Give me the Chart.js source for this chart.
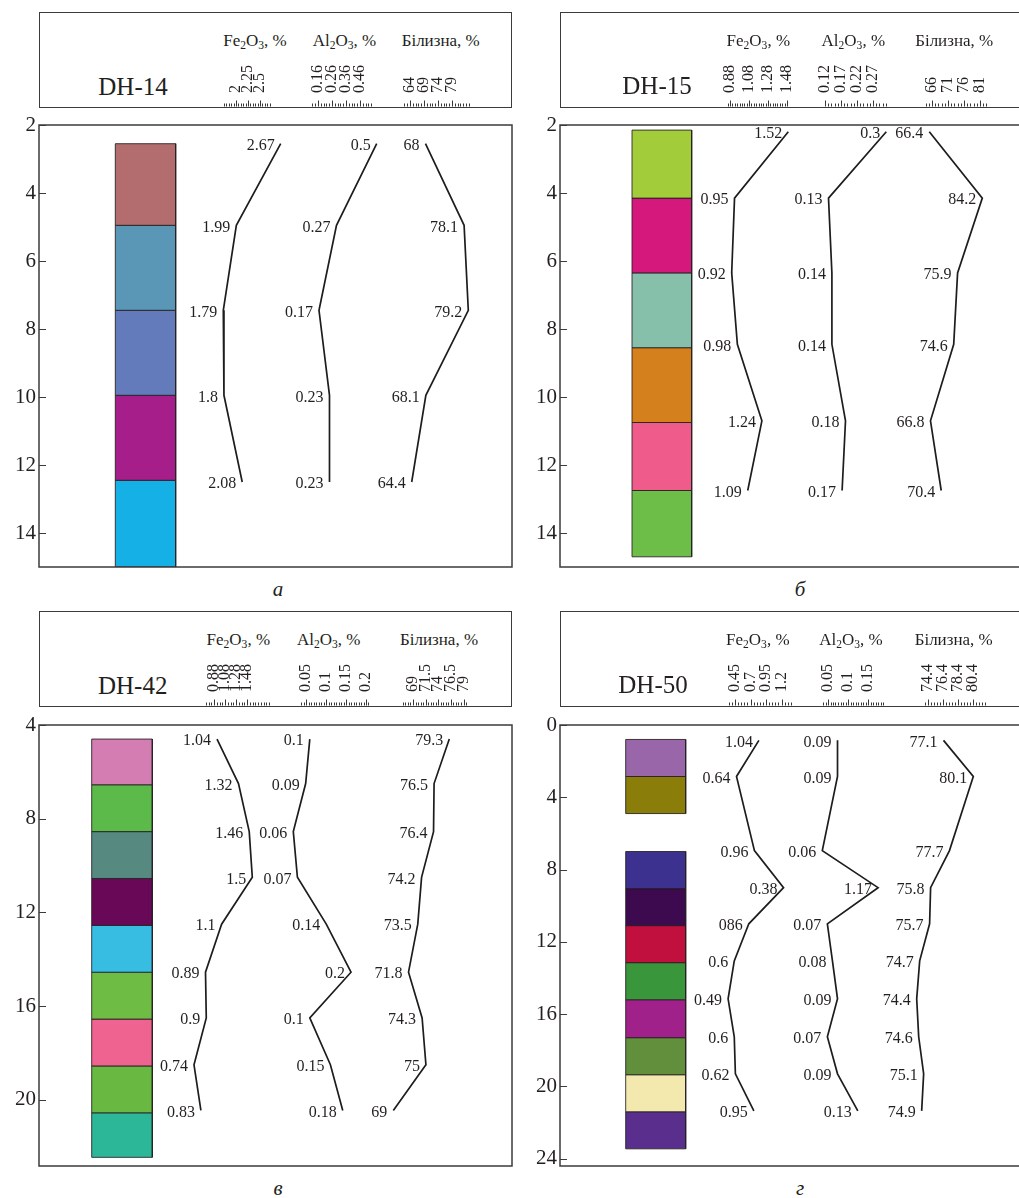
<!DOCTYPE html>
<html>
<head>
<meta charset="utf-8">
<script src="https://cdn.jsdelivr.net/npm/chart.js@4.4.1/dist/chart.umd.min.js"></script>
<style>
  html, body { margin: 0; padding: 0; }
  body { width: 1019px; height: 1198px; overflow: hidden; background: #fff; position: relative;
         font-family: 'Liberation Serif', 'DejaVu Serif', serif; color: #231f20; }
  canvas { position: absolute; }
  .box { position: absolute; border: 1.5px solid #3b3b3b; box-sizing: border-box; }
  .txt { position: absolute; white-space: nowrap; line-height: 1; transform: translateX(-50%); }
  .txt sub { font-size: 68%; vertical-align: -0.25em; line-height: 0; }
</style>
</head>
<body>
<script>
// ---- DH-14 ----
var dh14Depth = [2.55, 4.95, 7.45, 9.95, 12.5];
var dh14Fe = [2.67, 1.99, 1.79, 1.8, 2.08];
var dh14Al = [0.5, 0.27, 0.17, 0.23, 0.23];
var dh14Wh = [68, 78.1, 79.2, 68.1, 64.4];
var dh14Layers = [[2.55, 4.95], [4.95, 7.45], [7.45, 9.95], [9.95, 12.45], [12.45, 15]];
var dh14Colors = ['#b36d6e', '#5a96b5', '#637bba', '#a61e89', '#14b0e6'];
var dh14DepthTicks = [2, 4, 6, 8, 10, 12, 14];
var dh14FeTicks = [2, 2.25, 2.5];
var dh14AlTicks = [0.16, 0.26, 0.36, 0.46];
var dh14WhTicks = [64, 69, 74, 79];

// ---- DH-15 ----
var dh15Depth = [2.2, 4.15, 6.35, 8.45, 10.7, 12.75];
var dh15Fe = [1.52, 0.95, 0.92, 0.98, 1.24, 1.09];
var dh15Al = [0.3, 0.13, 0.14, 0.14, 0.18, 0.17];
var dh15Wh = [66.4, 84.2, 75.9, 74.6, 66.8, 70.4];
var dh15Layers = [[2.15, 4.15], [4.15, 6.35], [6.35, 8.55], [8.55, 10.75], [10.75, 12.75], [12.75, 14.7]];
var dh15Colors = ['#a3cc3a', '#d5187c', '#86bfaa', '#d4801c', '#ef5c8c', '#6dbe48'];
var dh15DepthTicks = [2, 4, 6, 8, 10, 12, 14];
var dh15FeTicks = [0.88, 1.08, 1.28, 1.48];
var dh15AlTicks = [0.12, 0.17, 0.22, 0.27];
var dh15WhTicks = [66, 71, 76, 81];

// ---- DH-42 ----
var dh42Depth = [4.6, 6.5, 8.55, 10.5, 12.5, 14.55, 16.5, 18.5, 20.45];
var dh42Fe = [1.04, 1.32, 1.46, 1.5, 1.1, 0.89, 0.9, 0.74, 0.83];
var dh42Al = [0.1, 0.09, 0.06, 0.07, 0.14, 0.2, 0.1, 0.15, 0.18];
var dh42Wh = [79.3, 76.5, 76.4, 74.2, 73.5, 71.8, 74.3, 75, 69];
var dh42Layers = [[4.6, 6.55], [6.55, 8.55], [8.55, 10.55], [10.55, 12.55], [12.55, 14.55],
                  [14.55, 16.55], [16.55, 18.55], [18.55, 20.55], [20.55, 22.45]];
var dh42Colors = ['#d47db3', '#5cba4a', '#568a80', '#6a0858', '#38bde2', '#6fbc45', '#ef6391', '#68b842', '#2cb799'];
var dh42DepthTicks = [4, 8, 12, 16, 20];
var dh42FeTicks = [0.88, 1.08, 1.28, 1.48];
var dh42AlTicks = [0.05, 0.1, 0.15, 0.2];
var dh42WhTicks = [69, 71.5, 74, 76.5, 79];

// ---- DH-50 ----
var dh50Depth = [0.85, 2.85, 6.95, 9.0, 11.0, 13.05, 15.15, 17.25, 19.3, 21.35];
var dh50Fe = [1.04, 0.64, 0.96, 1.48, 0.86, 0.6, 0.49, 0.6, 0.62, 0.95];
var dh50Al = [0.09, 0.09, 0.06, 0.17, 0.07, 0.08, 0.09, 0.07, 0.09, 0.13];
var dh50Wh = [77.1, 80.1, 77.7, 75.8, 75.7, 74.7, 74.4, 74.6, 75.1, 74.9];
// подписи так, как они напечатаны на рисунке
var dh50FeText = ['1.04', '0.64', '0.96', '0.38', '086', '0.6', '0.49', '0.6', '0.62', '0.95'];
var dh50AlText = ['0.09', '0.09', '0.06', '1.17', '0.07', '0.08', '0.09', '0.07', '0.09', '0.13'];
var dh50Layers = [[0.8, 2.85], [2.85, 4.9], [7, 9.05], [9.05, 11.1], [11.1, 13.15],
                  [13.15, 15.2], [15.2, 17.3], [17.3, 19.35], [19.35, 21.4], [21.4, 23.45]];
var dh50Colors = ['#9966aa', '#8b7d09', '#3d3190', '#3d0a4f', '#c2103e', '#3a963b', '#a1218b', '#628f3c', '#f3e9ae', '#5a2e8c'];
var dh50DepthTicks = [0, 4, 8, 12, 16, 20, 24];
var dh50FeTicks = [0.45, 0.7, 0.95, 1.2];
var dh50AlTicks = [0.05, 0.1, 0.15];
var dh50WhTicks = [74.4, 76.4, 78.4, 80.4];

var INK = '#231f20';
var FONT = "'Liberation Serif', 'DejaVu Serif', serif";
Chart.defaults.font.family = FONT;
Chart.defaults.color = INK;

// панели: ссылки на данные + раскладка
var panels = [
  { name: 'DH-14', caption: 'а', depth: dh14Depth, fe: dh14Fe, al: dh14Al, wh: dh14Wh,
    layers: dh14Layers, colors: dh14Colors, yTicks: dh14DepthTicks, yMin: 2, yMax: 15,
    ticks: { fe: dh14FeTicks, al: dh14AlTicks, wh: dh14WhTicks },
    box: [39, 125, 512, 567], head: [39, 12, 512, 108],
    anchors: { col: [[0, 115.3], [1, 175.7]], fe: [[1.79, 223.3], [2.67, 280.7]],
               al: [[0.17, 319], [0.5, 376.7]], wh: [[64.4, 411.7], [79.2, 468.3]] },
    rulers: { fe: { a: [2, 236], b: [2.5, 260], from: 1.71, to: 2.73, step: 0.05 },
              al: { a: [0.16, 318], b: [0.46, 360], from: 0.12, to: 0.54, step: 0.02 },
              wh: { a: [64, 410], b: [79, 452], from: 62, to: 85, step: 1 } },
    titles: { name: [133, 95], row: 46.7, fe: 255, al: 344.5, wh: 440.7, cap: [278, 597] } },
  { name: 'DH-15', caption: 'б', depth: dh15Depth, fe: dh15Fe, al: dh15Al, wh: dh15Wh,
    layers: dh15Layers, colors: dh15Colors, yTicks: dh15DepthTicks, yMin: 2, yMax: 15,
    ticks: { fe: dh15FeTicks, al: dh15AlTicks, wh: dh15WhTicks },
    box: [560, 125, 1022, 567], head: [560, 12, 1022, 108],
    anchors: { col: [[0, 632], [1, 691.7]], fe: [[0.92, 731.7], [1.52, 788.3]],
               al: [[0.13, 828.5], [0.3, 886.3]], wh: [[66.4, 929.3], [84.2, 982.3]] },
    rulers: { fe: { a: [0.88, 730], b: [1.48, 787], from: 0.845, to: 1.5, step: 0.025 },
              al: { a: [0.12, 825], b: [0.27, 873], from: 0.115, to: 0.31, step: 0.01 },
              wh: { a: [66, 932], b: [81, 980], from: 64, to: 83.5, step: 1 } },
    titles: { name: [657, 94], row: 46.7, fe: 758.3, al: 853.3, wh: 954.2, cap: [800, 597] } },
  { name: 'DH-42', caption: 'в', depth: dh42Depth, fe: dh42Fe, al: dh42Al, wh: dh42Wh,
    layers: dh42Layers, colors: dh42Colors, yTicks: dh42DepthTicks, yMin: 4, yMax: 22.82,
    ticks: { fe: dh42FeTicks, al: dh42AlTicks, wh: dh42WhTicks },
    box: [39, 725, 512, 1166], head: [39, 611, 512, 707],
    anchors: { col: [[0, 91.7], [1, 152.3]], fe: [[0.74, 194], [1.5, 252.3]],
               al: [[0.06, 293.3], [0.2, 351]], wh: [[69, 393.3], [79.3, 449.3]] },
    rulers: { fe: { a: [0.88, 214], b: [1.48, 247], from: 0.72, to: 1.9, step: 0.05 },
              al: { a: [0.05, 306], b: [0.2, 366], from: 0.035, to: 0.21, step: 0.00625 },
              wh: { a: [69, 413], b: [79, 463.5], from: 66.8, to: 79.7, step: 0.5 } },
    titles: { name: [132.7, 694], row: 645, fe: 238.3, al: 328.7, wh: 439, cap: [278, 1196] } },
  { name: 'DH-50', caption: 'г', depth: dh50Depth, fe: dh50Fe, al: dh50Al, wh: dh50Wh,
    text: { fe: dh50FeText, al: dh50AlText },
    layers: dh50Layers, colors: dh50Colors, yTicks: dh50DepthTicks, yMin: 0, yMax: 24.4,
    ticks: { fe: dh50FeTicks, al: dh50AlTicks, wh: dh50WhTicks },
    box: [560, 725, 1022, 1166], head: [560, 611, 1022, 707],
    anchors: { col: [[0, 625.7], [1, 685.7]], fe: [[0.64, 736.5], [1.04, 758.9]],
               al: [[0.06, 822.3], [0.13, 857.8]], wh: [[74.4, 916.7], [80.1, 973.3]] },
    rulers: { fe: { a: [0.45, 735], b: [1.2, 781.5], from: 0.34, to: 1.385, step: 0.05 },
              al: { a: [0.05, 828], b: [0.15, 868], from: 0.0375, to: 0.1925, step: 0.00625 },
              wh: { a: [74.4, 928], b: [80.4, 973], from: 73.73, to: 82.27, step: 0.4 } },
    titles: { name: [653, 693.3], row: 645, fe: 757.8, al: 851, wh: 953.7, cap: [800, 1196] } }
];

// диапазон оси по двум опорным точкам (значение, пиксель) и краям области
function axisRange(a, b, lo, hi) {
  var k = (b[1] - a[1]) / (b[0] - a[0]);
  return { min: a[0] - (a[1] - lo) / k, max: a[0] + (hi - a[1]) / k };
}

function addCanvas(x, y, w, h) {
  var c = document.createElement('canvas');
  c.width = w; c.height = h;
  c.style.left = x + 'px'; c.style.top = y + 'px';
  c.style.width = w + 'px'; c.style.height = h + 'px';
  document.body.appendChild(c);
  return c;
}

function addText(html, cx, baseline, size, extra) {
  var d = document.createElement('div');
  d.className = 'txt';
  d.innerHTML = html;
  d.style.fontSize = size + 'px';
  d.style.left = cx + 'px';
  d.style.top = (baseline - 0.8375 * size) + 'px';
  if (extra) d.style.cssText += extra;
  document.body.appendChild(d);
}

function addBox(r) {
  var d = document.createElement('div');
  d.className = 'box';
  d.style.left = r[0] + 'px'; d.style.top = r[1] + 'px';
  d.style.width = (r[2] - r[0]) + 'px'; d.style.height = (r[3] - r[1]) + 'px';
  document.body.appendChild(d);
}

// рамка поля и внутренние засечки глубины
var framePlugin = {
  id: 'frame',
  afterDraw: function (chart) {
    var ctx = chart.ctx, a = chart.chartArea, y = chart.scales.y;
    ctx.save();
    ctx.strokeStyle = '#3b3b3b';
    ctx.lineWidth = 1.5;
    ctx.strokeRect(a.left, a.top, a.right - a.left, a.bottom - a.top);
    ctx.lineWidth = 1.2;
    ctx.beginPath();
    y.ticks.forEach(function (t) {
      var py = Math.round(y.getPixelForValue(t.value)) + 0.5;
      ctx.moveTo(a.left, py);
      ctx.lineTo(a.left + 7, py);
    });
    ctx.stroke();
    ctx.restore();
  }
};

// подписи значений слева от точек
var pointLabelPlugin = {
  id: 'pointLabels',
  afterDatasetsDraw: function (chart) {
    var ctx = chart.ctx;
    ctx.save();
    ctx.font = '16px ' + FONT;
    ctx.fillStyle = INK;
    ctx.textAlign = 'right';
    ctx.textBaseline = 'middle';
    chart.data.datasets.forEach(function (ds, i) {
      if (!ds.pointLabels) return;
      chart.getDatasetMeta(i).data.forEach(function (pt, j) {
        ctx.fillText(ds.pointLabels[j], pt.x - 6, pt.y + 2);
      });
    });
    ctx.restore();
  }
};

// шкала-линейка в шапке
var rulerPlugin = {
  id: 'ruler',
  afterDraw: function (chart, args, opts) {
    var s = chart.scales.x, ctx = chart.ctx;
    var base = chart.chartArea.bottom - 1.5;
    var t0 = opts.ticks[0], st = opts.step;
    var k0 = Math.ceil((opts.from - t0) / st - 1e-6), k1 = Math.floor((opts.to - t0) / st + 1e-6);
    ctx.save();
    ctx.strokeStyle = INK;
    ctx.lineWidth = 0.9;
    ctx.beginPath();
    for (var k = k0; k <= k1; k++) {
      var v = t0 + k * st;
      var major = opts.ticks.some(function (t) { return Math.abs(t - v) < st / 2; });
      var px = Math.round(s.getPixelForValue(v)) + 0.5;
      ctx.moveTo(px, base);
      ctx.lineTo(px, base - (major ? 6 : 3));
    }
    ctx.stroke();
    ctx.restore();
  }
};

var RULER_FONT = 16;

function createRuler(p, key) {
  var h = p.head, r = p.rulers[key], list = p.ticks[key];
  var w = h[2] - h[0], ht = h[3] - h[1];
  var rng = axisRange(r.a, r.b, h[0], h[2]);
  new Chart(addCanvas(h[0], h[1], w, ht), {
    type: 'scatter',
    data: { datasets: [{ data: [] }] },
    options: {
      responsive: false, animation: false, events: [],
      layout: { padding: 0 },
      plugins: { legend: { display: false }, tooltip: { enabled: false },
                 ruler: { ticks: list, from: r.from, to: r.to, step: r.step } },
      scales: {
        x: {
          type: 'linear', position: 'top', min: rng.min, max: rng.max,
          afterBuildTicks: function (s) { s.ticks = list.map(function (v) { return { value: v }; }); },
          afterFit: function (s) { s.height = ht - 2; },
          grid: { display: false, drawTicks: false }, border: { display: false },
          ticks: { autoSkip: false, minRotation: 90, maxRotation: 90, padding: 13,
                   labelOffset: RULER_FONT * 1.2,
                   font: { size: RULER_FONT, lineHeight: 1.2 }, color: INK,
                   callback: function (v) { return String(v); } }
        },
        y: { display: false }
      }
    },
    plugins: [rulerPlugin]
  });
}

function createColumnChart(p) {
  var L = p.box[0], T = p.box[1], R = p.box[2], B = p.box[3];
  var cv = addCanvas(L - 40, T - 16, R - L + 42, B - T + 32);
  var datasets = [];
  p.layers.forEach(function (l, i) {
    datasets.push({
      data: [{ x: 0, y: l[0] }, { x: 1, y: l[0] }, { x: 1, y: l[1] }, { x: 0, y: l[1] }, { x: 0, y: l[0] }],
      xAxisID: 'col', showLine: true, fill: 'shape', tension: 0,
      backgroundColor: p.colors[i], borderColor: 'rgba(35,31,32,0.85)', borderWidth: 1,
      pointRadius: 0
    });
  });
  ['fe', 'al', 'wh'].forEach(function (key) {
    datasets.push({
      data: p[key].map(function (v, j) { return { x: v, y: p.depth[j] }; }),
      xAxisID: key, showLine: true, fill: false, tension: 0,
      borderColor: '#1d1d1b', borderWidth: 1.7, pointRadius: 0,
      pointLabels: (p.text && p.text[key]) || p[key].map(String)
    });
  });
  var scales = {
    y: {
      type: 'linear', position: 'left', reverse: true, min: p.yMin, max: p.yMax,
      afterBuildTicks: function (s) { s.ticks = p.yTicks.map(function (v) { return { value: v }; }); },
      afterFit: function (s) { s.width = 40; s.paddingTop = 0; s.paddingBottom = 0; },
      grid: { display: false, drawTicks: false }, border: { display: false },
      ticks: { padding: 3, font: { size: 21 }, color: INK }
    }
  };
  ['col', 'fe', 'al', 'wh'].forEach(function (key) {
    var rng = axisRange(p.anchors[key][0], p.anchors[key][1], L, R);
    scales[key] = { type: 'linear', axis: 'x', position: 'bottom', display: false, min: rng.min, max: rng.max };
  });
  new Chart(cv, {
    type: 'scatter',
    data: { datasets: datasets },
    options: {
      responsive: false, animation: false, events: [],
      layout: { padding: { top: 16, bottom: 16, left: 0, right: 2 } },
      plugins: { legend: { display: false }, tooltip: { enabled: false } },
      scales: scales
    },
    plugins: [framePlugin, pointLabelPlugin]
  });
}

panels.forEach(function (p) {
  addBox(p.head);
  var t = p.titles;
  addText(p.name, t.name[0], t.name[1], 25);
  addText('Fe<sub>2</sub>O<sub>3</sub>, %', t.fe, t.row, 17);
  addText('Al<sub>2</sub>O<sub>3</sub>, %', t.al, t.row, 17);
  addText('Білизна, %', t.wh, t.row, 17);
  addText(p.caption, t.cap[0], t.cap[1], 21, 'font-style:italic;');
  createRuler(p, 'fe');
  createRuler(p, 'al');
  createRuler(p, 'wh');
  createColumnChart(p);
});
</script>
</body>
</html>
